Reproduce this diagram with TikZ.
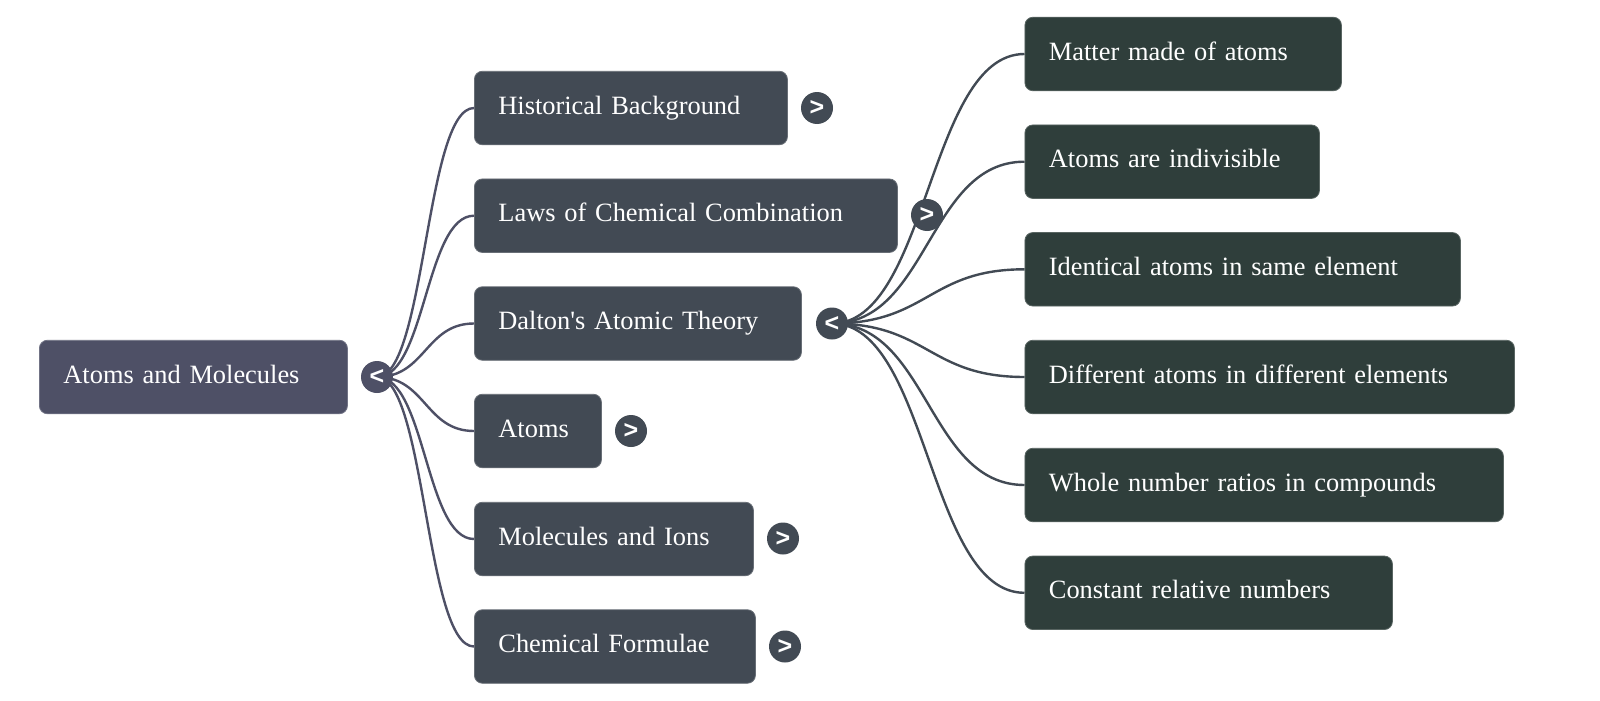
\documentclass[tikz,border=0pt]{standalone}
\usepackage{fontspec}
\setmainfont{Liberation Serif}[Ligatures=TeXOff]
\newfontfamily\togfont{Liberation Sans}
\usetikzlibrary{calc}
\pgfdeclarelayer{bg}
\pgfsetlayers{bg,main}
\definecolor{rootc}{HTML}{4E5066}
\definecolor{lvlone}{HTML}{424A54}
\definecolor{lvltwo}{HTML}{2F3E3B}
\newcommand\lnk[3]{\draw[#1] let \p1=(#2.center), \p2=(#3.west), \p3=($(\p1)!0.5!(\p2)$) in (\p1) .. controls (\x3,\y1) and (\x3,\y2) .. (\p2);}
\tikzset{
  box/.style={rounded corners=8pt, minimum height=73.5pt, inner xsep=24pt, inner ysep=0pt,
    text=white, font=\fontsize{26.4}{32}\selectfont, anchor=west, align=left,
    text height=18pt, text depth=6pt, line width=0.8pt},
  rootbox/.style={box, fill=rootc, draw=rootc!80!white},
  onebox/.style={box, fill=lvlone, draw=lvlone!80!white},
  twobox/.style={box, fill=lvltwo, draw=lvltwo!80!white},
  tog/.style={circle, minimum size=32pt, inner sep=0pt, text=white, font=\togfont\bfseries\fontsize{25}{25}\selectfont},
  rtog/.style={tog, fill=rootc},
  otog/.style={tog, fill=lvlone},
  rlink/.style={draw=rootc, line width=2.4pt},
  olink/.style={draw=lvlone, line width=2.4pt}
}
\begin{document}
\begin{tikzpicture}[x=1pt,y=-1pt]
\useasboundingbox (0,0) rectangle (1600,701);
% root
\node[rootbox, text width=260pt] (root) at (39,377) {Atoms and Molecules};
\node[rtog] (rootT) at (377,377) {<};
% level one
\node[onebox, text width=265pt] (hist) at (474,108) {Historical Background};
\node[onebox, text width=375pt] (laws) at (474,215.7) {Laws of Chemical Combination};
\node[onebox, text width=279pt] (dalt) at (474,323.5) {Dalton's Atomic Theory};
\node[onebox, text width=79pt] (atom) at (474,431) {Atoms};
\node[onebox, text width=231pt] (mole) at (474,539) {Molecules and Ions};
\node[onebox, text width=233pt] (chem) at (474,646.5) {Chemical Formulae};
\node[otog] (histT) at (817,108) {>};
\node[otog] (lawsT) at (927,215) {>};
\node[otog] (daltT) at (832,323.5) {<};
\node[otog] (atomT) at (631,431) {>};
\node[otog] (moleT) at (783,538.5) {>};
\node[otog] (chemT) at (785,646.5) {>};
% level two
\node[twobox, text width=268.5pt] (d1) at (1024.5,54) {Matter made of atoms};
\node[twobox, text width=246.5pt] (d2) at (1024.5,161.7) {Atoms are indivisible};
\node[twobox, text width=387.5pt] (d3) at (1024.5,269.3) {Identical atoms in same element};
\node[twobox, text width=441.5pt] (d4) at (1024.5,377) {Different atoms in different elements};
\node[twobox, text width=430.5pt] (d5) at (1024.5,485) {Whole number ratios in compounds};
\node[twobox, text width=319.5pt] (d6) at (1024.5,592.8) {Constant relative numbers};
\begin{pgfonlayer}{bg}
\fill[white] (0,0) rectangle (1600,701);
\foreach \t in {hist,laws,dalt,atom,mole,chem}{\lnk{rlink}{rootT}{\t}}
\foreach \t in {d1,d2,d3,d4,d5,d6}{\lnk{olink}{daltT}{\t}}
\end{pgfonlayer}
\end{tikzpicture}
\end{document}
